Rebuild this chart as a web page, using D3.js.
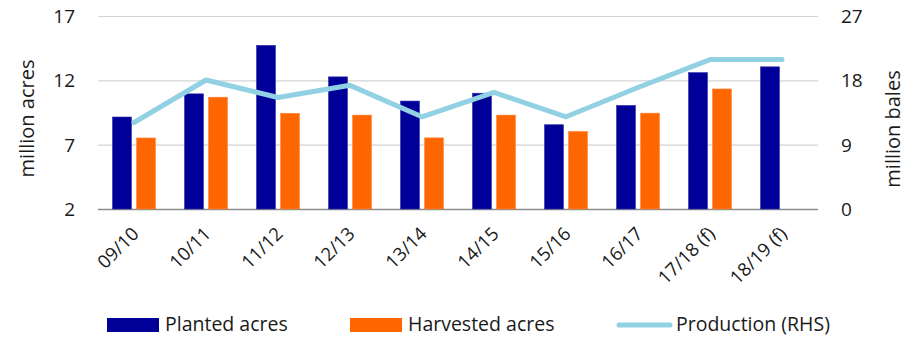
<!DOCTYPE html>
<html><head><meta charset="utf-8">
<script src="https://cdn.jsdelivr.net/npm/d3@7"></script>
<style>
body{margin:0;background:#fff;}
text{font-family:"Open Sans",sans-serif;fill:#1a1a1a;}
</style></head>
<body><svg id="c" width="906" height="337"></svg>
<script>
const categories = ["09/10","10/11","11/12","12/13","13/14","14/15","15/16","16/17","17/18 (f)","18/19 (f)"];
const planted = [9.15,10.95,14.72,12.27,10.39,11.0,8.55,10.05,12.6,13.05];
const harvested = [7.52,10.69,9.44,9.3,7.53,9.3,8.03,9.45,11.33,null];
const production = [12.1,18.05,15.6,17.3,12.9,16.3,12.9,17.0,20.9,20.9];
const leftTicks = [2,7,12,17];
const rightTicks = [0,9,18,27];
const seriesNames = ["Planted acres","Harvested acres","Production (RHS)"];
const colors = ["#000099","#FF6600","#92D0E3"];

const svg = d3.select("#c");
const L=98, R=818, T=16, B=209;
const x = d3.scaleBand().domain(categories).range([L,R]).padding(0);
const xi = d3.scaleBand().domain([0,1]).range([0,x.bandwidth()]).paddingInner(0.208).paddingOuter(0.604);
const yL = d3.scaleLinear().domain([2,17]).range([B,T]);
const yR = d3.scaleLinear().domain([0,27]).range([B,T]);

// gridlines
svg.append("g").selectAll("line").data(leftTicks).join("line")
  .attr("x1",L).attr("x2",R).attr("y1",d=>yL(d)+0.5).attr("y2",d=>yL(d)+0.5)
  .attr("stroke",d=>d===2?"#8c8c8c":"#d4d4d4").attr("stroke-width",d=>d===2?1.5:1.2);

// bars
const data = categories.map((c,i)=>({c, v:[planted[i],harvested[i]]}));
data.forEach(d=>{
  d.v.forEach((v,k)=>{
    if(v==null) return;
    svg.append("rect").attr("x",x(d.c)+xi(k)).attr("width",xi.bandwidth())
      .attr("y",yL(v)).attr("height",yL(2)-yL(v))
      .attr("fill",colors[k]).attr("stroke",k===0?"#3030a8":"#ff8a3d").attr("stroke-width",0.6);
  });
});

// line
const line = d3.line().x((d,i)=>x(categories[i])+x.bandwidth()/2).y(d=>yR(d));
svg.append("path").datum(production).attr("d",line).attr("fill","none")
  .attr("stroke",colors[2]).attr("stroke-width",5).attr("stroke-linecap","round").attr("stroke-linejoin","round");

// left axis ticks
svg.append("g").selectAll("text").data(leftTicks).join("text")
  .attr("x",75).attr("y",d=>yL(d)+7).attr("text-anchor","end").attr("font-size",19).text(d=>d);
// right axis ticks
svg.append("g").selectAll("text").data(rightTicks).join("text")
  .attr("x",841).attr("y",d=>yR(d)+7).attr("text-anchor","start").attr("font-size",19).text(d=>d);

// axis titles
svg.append("text").attr("transform","translate(34,118.5) rotate(-90)").attr("text-anchor","middle")
  .attr("font-size",20).text("million acres");
svg.append("text").attr("transform","translate(900,129) rotate(-90)").attr("text-anchor","middle")
  .attr("font-size",20).text("million bales");

// x labels
svg.append("g").selectAll("text").data(categories).join("text")
  .attr("transform",d=>`translate(${x(d)+x.bandwidth()/2+6},${235}) rotate(-45)`)
  .attr("text-anchor","end").attr("font-size",18.5).text(d=>d);

// legend
const leg = [{x:107,t:seriesNames[0],k:0},{x:350,t:seriesNames[1],k:1},{x:617,t:seriesNames[2],k:2}];
leg.forEach(l=>{
  if(l.k<2){
    svg.append("rect").attr("x",l.x).attr("y",318).attr("width",52).attr("height",14).attr("fill",colors[l.k]);
  } else {
    svg.append("line").attr("x1",l.x+2).attr("x2",l.x+53).attr("y1",325).attr("y2",325)
      .attr("stroke",colors[2]).attr("stroke-width",5).attr("stroke-linecap","round");
  }
  svg.append("text").attr("x",l.x+(l.k<2?58:59)).attr("y",331).attr("font-size",19.5).text(l.t);
});
</script></body></html>
